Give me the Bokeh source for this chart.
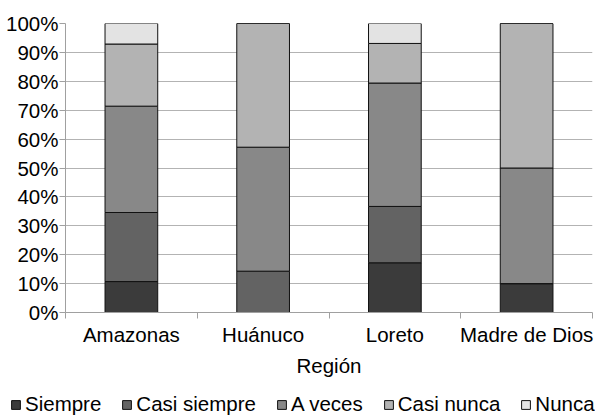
from bokeh.plotting import figure
from bokeh.models import (ColumnDataSource, FixedTicker, PrintfTickFormatter,
                          Legend, LegendItem, Range1d)
from bokeh.layouts import column, row
from bokeh.embed import file_html
from bokeh.resources import INLINE

regions = ["Amazonas", "Huánuco", "Loreto", "Madre de Dios"]
series = ["Siempre", "Casi siempre", "A veces", "Casi nunca", "Nunca"]
siempre = [10.7, 0.0, 17.2, 10.0]
casi_siempre = [23.9, 14.3, 19.5, 0.0]
a_veces = [36.8, 42.9, 42.7, 40.0]
casi_nunca = [21.5, 42.8, 13.7, 50.0]
nunca = [7.1, 0.0, 6.9, 0.0]
y_ticks = [0, 10, 20, 30, 40, 50, 60, 70, 80, 90, 100]
colors = ["#3b3b3b", "#636363", "#888888", "#b3b3b3", "#e3e3e3"]

FONT = "Liberation Sans"
xs = [i + 0.5 for i in range(len(regions))]
source = ColumnDataSource(dict(x=xs, s0=siempre, s1=casi_siempre, s2=a_veces,
                               s3=casi_nunca, s4=nunca))
keys = ["s0", "s1", "s2", "s3", "s4"]

p = figure(width=595, height=390, output_backend="svg", toolbar_location=None,
           x_range=Range1d(0, len(regions)), y_range=Range1d(0, 100),
           min_border_left=65, min_border_right=3, min_border_top=23,
           min_border_bottom=78)
p.outline_line_color = None
p.background_fill_color = "white"
p.border_fill_color = "white"

p.vbar_stack(keys, x="x", width=0.4, source=source, fill_color=colors,
             line_color="#111111", line_width=1)

# y axis
p.yaxis.ticker = FixedTicker(ticks=y_ticks)
p.yaxis.formatter = PrintfTickFormatter(format="%d%%")
p.yaxis.major_label_text_font = FONT
p.yaxis.major_label_text_font_size = "20.5px"
p.yaxis.major_label_text_color = "black"
p.yaxis.major_label_standoff = 1
p.yaxis.major_tick_out = 6
p.yaxis.major_tick_in = 0
p.yaxis.major_tick_line_color = "#a0a0a0"
p.yaxis.minor_tick_line_color = None
p.yaxis.axis_line_color = "#a0a0a0"

# x axis
p.xaxis.ticker = FixedTicker(ticks=xs, minor_ticks=list(range(len(regions) + 1)))
p.xaxis.major_label_overrides = {x: r for x, r in zip(xs, regions)}
p.xaxis.major_label_text_font = FONT
p.xaxis.major_label_text_font_size = "20.5px"
p.xaxis.major_label_text_color = "black"
p.xaxis.major_tick_line_color = None
p.xaxis.major_tick_out = 0
p.xaxis.major_tick_in = 0
p.xaxis.major_label_standoff = 4
p.xaxis.minor_tick_line_color = "#a0a0a0"
p.xaxis.minor_tick_out = 6
p.xaxis.minor_tick_in = 0
p.xaxis.axis_line_color = "#a0a0a0"
p.xaxis.axis_label = "Región"
p.xaxis.axis_label_text_font = FONT
p.xaxis.axis_label_text_font_size = "20.5px"
p.xaxis.axis_label_text_font_style = "normal"
p.xaxis.axis_label_text_color = "black"
p.xaxis.axis_label_standoff = 5

p.xgrid.grid_line_color = None
p.ygrid.ticker = FixedTicker(ticks=y_ticks)
p.ygrid.grid_line_color = "#b3b3b3"
p.ygrid.grid_line_width = 1

# legend strip below the chart (its bars are kept out of view, only the legend shows)
lf = figure(width=595, height=25, output_backend="svg", toolbar_location=None,
            x_range=Range1d(100, 104), y_range=Range1d(1000, 1010),
            x_axis_location=None, y_axis_location=None,
            min_border_left=0, min_border_right=0, min_border_top=0,
            min_border_bottom=0)
lf.outline_line_color = None
lf.xgrid.grid_line_color = None
lf.ygrid.grid_line_color = None
proxies = lf.vbar_stack(keys, x="x", width=0.4, source=source, fill_color=colors,
                        line_color="#111111", line_width=1)

legend = Legend(items=[LegendItem(label=s, renderers=[r]) for s, r in zip(series, proxies)],
                orientation="horizontal", location=(10, -1))
legend.label_text_font = FONT
legend.label_text_font_size = "20.5px"
legend.label_text_color = "black"
legend.glyph_width = 11
legend.glyph_height = 11
legend.label_standoff = 4
legend.spacing = 20
legend.padding = 0
legend.margin = 0
legend.border_line_color = None
legend.background_fill_alpha = 0
legend.label_height = 20
lf.add_layout(legend, "center")

layout = column(p, row(lf, spacing=0), spacing=0)
open("out.html", "w").write(file_html(layout, INLINE))
